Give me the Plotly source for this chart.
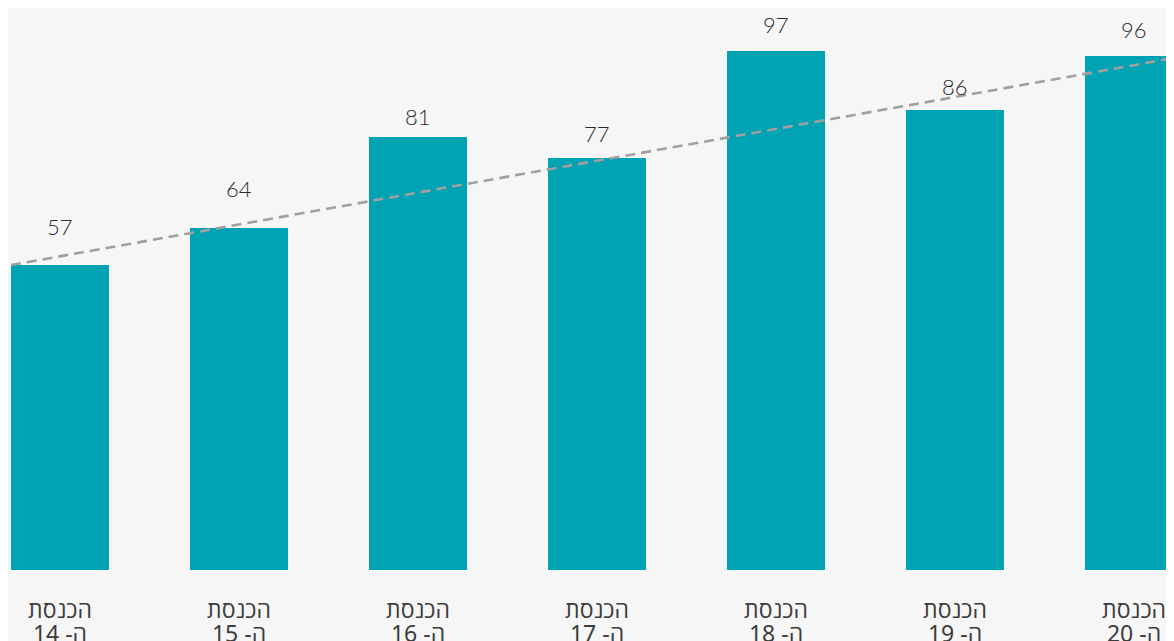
import plotly.graph_objects as go

categories_line1 = ["הכנסת"] * 7
categories_line2 = ["ה- 14", "ה- 15", "ה- 16", "ה- 17", "ה- 18", "ה- 19", "ה- 20"]
values = [57, 64, 81, 77, 97, 86, 96]

# label vertical offsets (px) above bar tops, styling only
label_offsets_px = [39, 39, 20, 25, 27, 23, 27]

BAR_COLOR = "#00a3b4"
BG = "#f6f6f6"
bar_width = 0.547
TICK_FONT = dict(family="Noto Sans, Open Sans, sans-serif", size=23, color="#3c3c3c")

x = list(range(len(values)))

fig = go.Figure()
fig.add_trace(go.Bar(x=x, y=values, width=bar_width, marker_color=BAR_COLOR,
                     marker_line_width=0, hoverinfo="skip"))

# trend line: from top-left corner of first bar to top-right corner of last bar
fig.add_trace(go.Scatter(x=[x[0] - bar_width / 2, x[-1] + bar_width / 2],
                         y=[values[0], values[-1]], mode="lines",
                         line=dict(color="#a0a0a0", width=2.6, dash="10px,6px"),
                         hoverinfo="skip", cliponaxis=True))

for xi, v, off in zip(x, values, label_offsets_px):
    fig.add_annotation(x=xi, y=v, text=str(v), showarrow=False, yshift=off,
                       font=dict(family="Lato, sans-serif", size=22, color="#2a2a2a", weight=300),
                       yanchor="middle", xanchor="center")

fig.update_layout(
    width=1174, height=641,
    margin=dict(l=0, r=0, t=0, b=79),
    paper_bgcolor=BG, plot_bgcolor=BG,
    showlegend=False,
    bargap=0,
    xaxis=dict(range=[-0.2905, 6.268], tickmode="array", tickvals=x, ticktext=categories_line1,
               showgrid=False, zeroline=False, showline=False, ticks="",
               ticklabelstandoff=24, tickfont=TICK_FONT),
    xaxis2=dict(range=[-0.2905, 6.268], tickmode="array", tickvals=x, ticktext=categories_line2,
                overlaying="x", side="bottom", anchor="y",
                showgrid=False, zeroline=False, showline=False, ticks="",
                ticklabelstandoff=48, tickfont=TICK_FONT),
    yaxis=dict(range=[0, 105.05], showgrid=False, zeroline=False, showline=False,
               showticklabels=False, ticks=""),
)
# invisible trace to activate the second x-axis
fig.add_trace(go.Scatter(x=[x[0]], y=[0], xaxis="x2", mode="markers",
                         marker=dict(opacity=0), hoverinfo="skip"))

fig.write_html("out.html")
